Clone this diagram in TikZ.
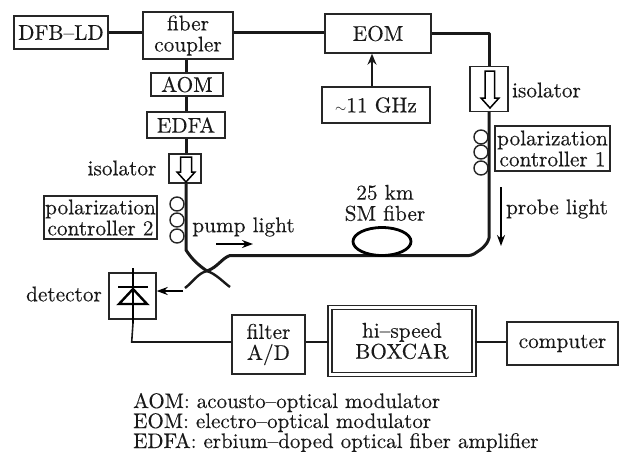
\documentclass[tikz,border=0pt]{standalone}
\usepackage{fontspec}
\setmainfont{lmroman10-regular}[Extension=.otf,FakeBold=0.25]
\usetikzlibrary{arrows.meta,calc,shapes.geometric}
\tikzset{
 box/.style={draw=black!85,line width=1.4pt,inner sep=0pt,align=center,font=\fontsize{21.3}{21}\selectfont,text=black!90},
 lab/.style={inner sep=0pt,align=center,font=\fontsize{21.3}{21}\selectfont,text=black!90},
 legend/.style={inner sep=0pt,anchor=base west,font=\fontsize{21}{21}\selectfont,text=black!90},
 fiber/.style={line width=3pt,black!90,line join=round},
 wire/.style={line width=1.6pt,black!90},
 coil/.style={draw=black!85,line width=1.4pt,circle,minimum size=14pt,inner sep=0pt},
 flow/.style={line width=2.2pt,black,-{Stealth[length=11pt,width=8pt]}},
 hollow/.style={draw=black,line width=1.5pt,fill=white,line join=miter},
}
\begin{document}
\begin{tikzpicture}[x=1pt,y=-1pt]
\useasboundingbox (0,0) rectangle (624,451);
\coordinate (fx) at (186,0);
% boxes
\node[box,minimum width=94pt,minimum height=33pt] (dfb) at (61,32.5) {DFB--LD};
\node[box,minimum width=90pt,minimum height=47pt] (coup) at (188,35.5) {fiber\\coupler};
\node[box,minimum width=106pt,minimum height=39pt] (eom) at (378,33.5) {EOM};
\node[box,minimum width=108pt,minimum height=36pt] (ghz) at (376,105) {$\scriptstyle\sim$11 GHz};
\node[box,minimum width=72pt,minimum height=23pt] (aom) at (187,84.5) {AOM};
\node[box,minimum width=78pt,minimum height=26pt] (edfa) at (186,125) {EDFA};
\node[box,minimum width=32pt,minimum height=29pt] (iso2) at (185,168.5) {};
\node[box,minimum width=38pt,minimum height=45pt] (iso1) at (489,89) {};
\node[box,minimum width=115pt,minimum height=45pt] (pc1) at (552.5,148.5) {polarization\\controller 1};
\node[box,minimum width=113pt,minimum height=43pt] (pc2) at (100.5,217.5) {polarization\\controller 2};
\node[box,minimum width=47pt,minimum height=46pt] (det) at (132.5,296) {};
\node[box,minimum width=73pt,minimum height=59pt] (filt) at (268.5,344.5) {filter\\A/D};
\node[box,minimum width=144pt,minimum height=67pt,line width=1.7pt,double,double distance=2.4pt] (bc) at (402,341) {hi--speed\\BOXCAR};
\node[box,minimum width=111pt,minimum height=43pt] (comp) at (562.5,343.5) {computer};
% labels
\node[lab] (tiso2) at (122,168) {isolator};
\node[lab] (tiso1) at (546.5,90) {isolator};
\node[lab] (tfib) at (385,203) {25 km\\SM fiber};
\node[lab] (tprobe) at (557,209) {probe light};
\node[lab] (tpump) at (243.5,227) {pump light};
\node[lab] (tdet) at (64,294) {detector};
\node[legend] (leg1) at (133,408) {AOM: acousto--optical modulator};
\node[legend] (leg2) at (133,428) {EOM: electro--optical modulator};
\node[legend] (leg3) at (133,448) {EDFA: erbium--doped optical fiber amplifier};
% fibers
\draw[fiber] (dfb.east) -- (dfb.east -| coup.west);
\draw[fiber] (coup.east |- dfb.east) -- (eom.west |- dfb.east);
\draw[fiber] (fx |- coup.south) -- (fx |- aom.north);
\draw[fiber] (fx |- aom.south) -- (fx |- edfa.north);
\draw[fiber] (fx |- edfa.south) -- (fx |- iso2.north);
\coordinate (c1) at (489,33);
\coordinate (xx) at (207,271);
\draw[fiber] (eom.east |- c1) -- (c1) -- (iso1.north);
\draw[fiber] (iso1.south) -- (489,238) .. controls (487,246) and (480,250) .. (477,252) .. controls (473,255) and (470,256) .. (465,255.5) -- (230,255.5) .. controls (222,258) and (218,267) .. (xx) .. controls (198,265) and (191,258) .. (186,250) -- (fx |- iso2.south);
\draw[fiber,line width=2.4pt] (185,288) .. controls (193,282) and (198,273) .. (xx) .. controls (216,274) and (222,281) .. (230,287);
% isolators' hollow arrows
\draw[hollow] (180.5,157) -- (191.5,157) -- (191.5,172) -- (195,172) -- (186,182) -- (177,172) -- (180.5,172) -- cycle;
\draw[hollow] (485,71) -- (494.5,71) -- (494.5,98) -- (499,98) -- (490,108) -- (481,98) -- (485,98) -- cycle;
% coils
\foreach \n/\y in {a/204,b/220,c/236}{\node[coil] (l\n) at (177,\y) {};}
\foreach \n/\y in {a/137,b/152,c/168}{\node[coil] (r\n) at (481,\y) {};}
% fiber loop
\node[draw=black,line width=2.8pt,ellipse,minimum width=58pt,minimum height=28pt,inner sep=0pt] (loop) at (382,241.5) {};
% arrows
\draw[wire,-{Stealth[length=11pt,width=9pt]}] (ghz.north -| 372,0) -- (eom.south -| 372,0);
\coordinate (pr1) at (501,187); \coordinate (pr2) at (501,246);
\draw[flow] (pr1) -- (pr2);
\coordinate (pu1) at (216,244); \coordinate (pu2) at (253,244);
\draw[flow] (pu1) -- (pu2);
\coordinate (de1) at (183,291);
\draw[flow] (de1) -- (det.east |- de1);
% diode
\coordinate (dt) at (133,268); \coordinate (db) at (133,323);
\draw[line width=2.4pt,black] (dt) -- (db);
\draw[line width=2.4pt,black] (118,287) -- (148,287);
\draw[line width=2.4pt,black,line join=miter] (133,289) -- (119,304) -- (147,304) -- cycle;
% electrical
\coordinate (w1) at (131.7,342);
\draw[wire] (db) -- (w1) -- (w1 -| filt.west);
\draw[wire] (w1 -| filt.east) -- (w1 -| bc.west);
\draw[wire] (w1 -| bc.east) -- (w1 -| comp.west);
\end{tikzpicture}
\end{document}
